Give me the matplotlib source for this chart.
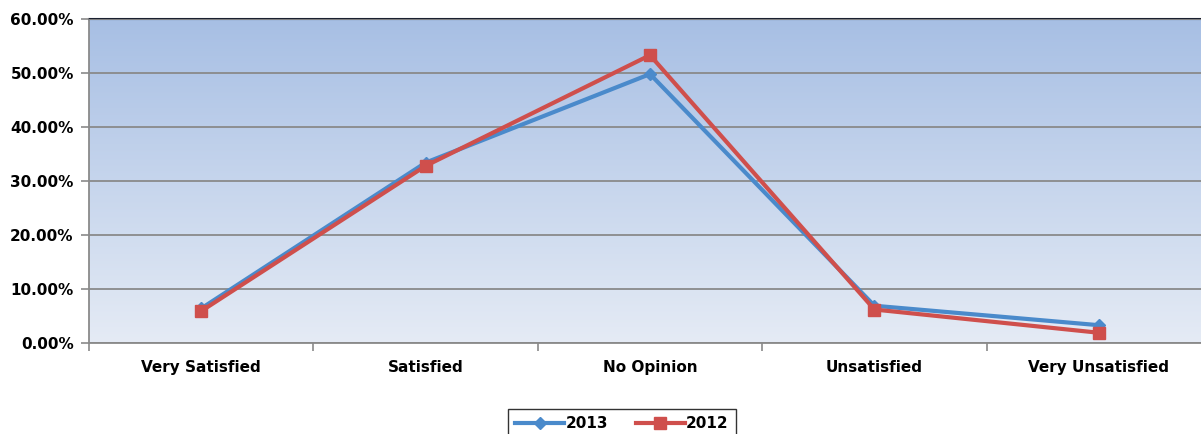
import matplotlib.pyplot as plt
import numpy as np

plt.rcParams['font.family'] = ['DejaVu Sans']
plt.rcParams['font.weight'] = 'bold'

categories = ['Very Satisfied', 'Satisfied', 'No Opinion', 'Unsatisfied', 'Very Unsatisfied']
vals_2013 = [6.4, 33.4, 49.8, 6.9, 3.3]
vals_2012 = [5.9, 32.8, 53.3, 6.2, 1.9]

blue = '#4a8acb'
red = '#cf4f4c'

fig = plt.figure(figsize=(12.01, 4.34), dpi=100)
# axes extends past the right edge, like the cropped original
ax = fig.add_axes([89/1201, 1 - 343/434, 1122/1201, 324/434])

x = np.arange(len(categories))
ax.set_xlim(-0.5, 4.5)
ax.set_ylim(0, 60)

# gradient background
grad = np.linspace(0, 1, 256).reshape(-1, 1)
top = np.array([0.655, 0.749, 0.894])
bot = np.array([0.898, 0.922, 0.961])
img = top * (1 - grad[..., None]) + bot * grad[..., None]
ax.imshow(img, extent=(-0.5, 4.5, 0, 60), aspect='auto', zorder=0)

ax.set_yticks(np.arange(0, 61, 10))
ax.set_yticklabels(['{:.2f}%'.format(v) for v in range(0, 61, 10)], fontsize=11)
ax.yaxis.grid(True, color='#8a8a8a', linewidth=1.3, zorder=1)
ax.set_axisbelow(False)

ax.set_xticks(x)
ax.set_xticklabels(categories, fontsize=11)
ax.set_xticks(np.arange(-0.5, 4.6, 1), minor=True)
ax.tick_params(axis='x', which='major', length=0, pad=12)
ax.tick_params(axis='x', which='minor', length=6, color='#8a8a8a', width=1.2)
ax.tick_params(axis='y', length=6, color='#8a8a8a', width=1.2, pad=5)

for s in ['left', 'bottom']:
    ax.spines[s].set_color('#8a8a8a')
    ax.spines[s].set_linewidth(1.3)
ax.spines['top'].set_color('#1a2030')
ax.spines['top'].set_linewidth(1.5)
ax.spines['right'].set_visible(False)

ax.plot(x, vals_2013, color=blue, linewidth=3, marker='D', markersize=6,
        label='2013', zorder=3)
ax.plot(x, vals_2012, color=red, linewidth=3, marker='s', markersize=9,
        label='2012', zorder=4)

leg = fig.legend(loc='center', bbox_to_anchor=(622/1201, 1 - 424/434), ncol=2,
                 fontsize=11, frameon=True, fancybox=False, edgecolor='black',
                 handlelength=3.2, columnspacing=1.8, handletextpad=0.1,
                 borderpad=0.5)
leg.get_frame().set_linewidth(1.0)

fig.savefig('out.png', dpi=100)
